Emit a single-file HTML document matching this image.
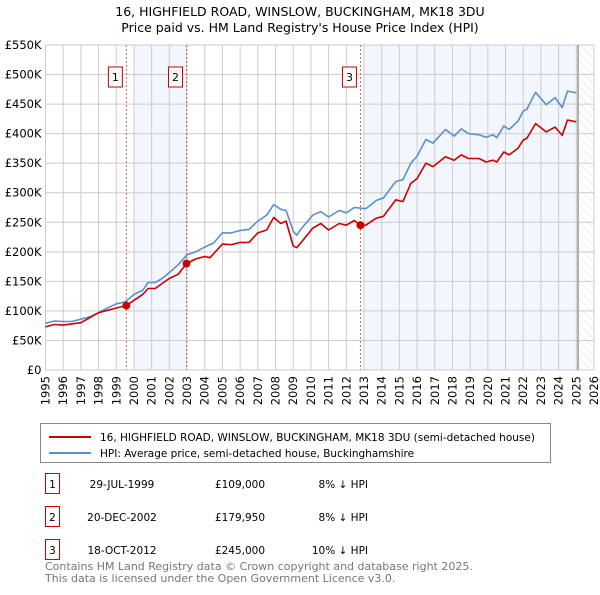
<!DOCTYPE html>
<html><head><meta charset="utf-8"><style>
body{margin:0;background:#fff;font-family:"Liberation Sans","DejaVu Sans",sans-serif;}
svg text{font-family:"DejaVu Sans","Liberation Sans",sans-serif;}
</style></head><body>
<svg id="c" width="600" height="590" xmlns="http://www.w3.org/2000/svg">
<defs><pattern id="hatch" width="6" height="6" patternUnits="userSpaceOnUse" patternTransform="rotate(-45)"><line x1="0" y1="0" x2="0" y2="6" stroke="#ddd" stroke-width="1"/></pattern></defs>
<text x="300" y="16" text-anchor="middle" font-size="12.5">16, HIGHFIELD ROAD, WINSLOW, BUCKINGHAM, MK18 3DU</text>
<text x="300" y="32" text-anchor="middle" font-size="12.5">Price paid vs. HM Land Registry's House Price Index (HPI)</text>
<g id="plot"></g>
<rect x="40.5" y="423.5" width="510" height="39" fill="#fff" stroke="#888"/>
<line x1="49" y1="437" x2="91" y2="437" stroke="#cc0000" stroke-width="2"/>
<text x="100" y="441" font-size="10.5">16, HIGHFIELD ROAD, WINSLOW, BUCKINGHAM, MK18 3DU (semi-detached house)</text>
<line x1="49" y1="453" x2="91" y2="453" stroke="#5b8fd0" stroke-width="2"/>
<text x="100" y="457" font-size="10.5">HPI: Average price, semi-detached house, Buckinghamshire</text>
<g id="tbl" font-size="10.5"></g>
<text x="45" y="570" font-size="11" fill="#777">Contains HM Land Registry data © Crown copyright and database right 2025.</text>
<text x="45" y="582" font-size="11" fill="#777">This data is licensed under the Open Government Licence v3.0.</text>
</svg>
<script>
const hpiYears=[1995,1995.5,1996,1996.5,1997,1997.5,1998,1998.5,1999,1999.5,2000,2000.5,2000.8,2001.2,2001.6,2002,2002.5,2003,2003.5,2004,2004.5,2005,2005.5,2006,2006.5,2007,2007.5,2007.9,2008.3,2008.6,2009,2009.2,2009.4,2010.1,2010.56,2011,2011.6,2012,2012.45,2013.1,2013.7,2014.1,2014.8,2015.2,2015.65,2016,2016.5,2016.9,2017.6,2018.1,2018.5,2018.9,2019.5,2019.9,2020.3,2020.5,2020.9,2021.2,2021.7,2022,2022.2,2022.7,2023.3,2023.8,2024.2,2024.5,2025];
const hpiValues=[79,83,82,82,86,90,97,105,112,115,128,135,148,148,155,165,178,195,200,208,215,232,232,236,238,252,262,280,272,270,235,228,237,262,268,259,270,266,275,273,287,291,319,322,350,362,390,384,407,396,408,400,398,394,398,393,413,407,421,438,441,470,449,461,444,472,469];
const redYears=[1995,1995.5,1996,1997,1998,1999,1999.57,2000,2000.5,2000.8,2001.2,2002,2002.5,2002.97,2003.5,2004,2004.3,2005,2005.5,2006,2006.5,2007,2007.5,2007.9,2008.3,2008.6,2009,2009.2,2009.4,2010.1,2010.56,2011,2011.6,2012,2012.45,2012.8,2013.1,2013.7,2014.1,2014.8,2015.2,2015.65,2016,2016.5,2016.9,2017.6,2018.1,2018.5,2018.9,2019.5,2019.9,2020.3,2020.5,2020.9,2021.2,2021.7,2022,2022.2,2022.7,2023.3,2023.8,2024.2,2024.5,2025];
const redValues=[73,77,76,80,97,105,109,118,128,138,138,155,162,180,188,192,190,213,212,216,216,232,237,258,248,252,210,207,214,240,248,237,248,245,253,245,245,257,260,288,285,316,324,350,344,361,355,364,358,358,352,355,352,369,364,375,389,392,417,403,411,397,423,420];
const saleYears=[1999.57,2002.97,2012.8];
const saleValues=[109,179.95,245];
const saleLabels=["1","2","3"];
const saleDates=["29-JUL-1999","20-DEC-2002","18-OCT-2012"];
const salePrices=["£109,000","£179,950","£245,000"];
const saleDiffs=["8% ↓ HPI","8% ↓ HPI","10% ↓ HPI"];
const yTicks=[0,50,100,150,200,250,300,350,400,450,500,550];
const yTickLabels=["£0","£50K","£100K","£150K","£200K","£250K","£300K","£350K","£400K","£450K","£500K","£550K"];
const xTicks=[1995,1996,1997,1998,1999,2000,2001,2002,2003,2004,2005,2006,2007,2008,2009,2010,2011,2012,2013,2014,2015,2016,2017,2018,2019,2020,2021,2022,2023,2024,2025,2026];

const X0=45.5,X1=594,Y0=370,Y1=45;
const xs=y=>X0+(y-1995)/(2026-1995)*(X1-X0);
const ys=v=>Y0-v/550*(Y0-Y1);
const NS="http://www.w3.org/2000/svg";
const plot=document.getElementById('plot');
function mk(tag,attrs,parent){const e=document.createElementNS(NS,tag);for(const k in attrs)e.setAttribute(k,attrs[k]);(parent||plot).appendChild(e);return e;}
let r;
r=mk('rect',{x:xs(2000),y:Y1,width:xs(2003)-xs(2000),height:Y0-Y1,fill:'#eef3fc',opacity:0.75});


r=mk('rect',{x:xs(2013),y:Y1,width:xs(2025.1)-xs(2013),height:Y0-Y1,fill:'#eef3fc',opacity:0.75});


r=mk('rect',{x:xs(2025.1),y:Y1,width:X1-xs(2025.1),height:Y0-Y1,fill:'url(#hatch)'});


xTicks.forEach(t=>{
  const l=mk('line',{x1:xs(t),x2:xs(t),y1:Y1,y2:Y0,stroke:'#ccc','stroke-width':1});
  
  
  const tx=mk('text',{x:0,y:0,'text-anchor':'end','font-size':11.5,transform:'translate('+(xs(t)+4)+','+(Y0+6)+') rotate(-90)'});
  tx.textContent=t;
  
  
});
yTicks.forEach((t,i)=>{
  const l=mk('line',{x1:X0,x2:X1,y1:ys(t),y2:ys(t),stroke:'#ccc','stroke-width':1});
  
  
  const tx=mk('text',{x:X0-4,y:ys(t)+4,'text-anchor':'end','font-size':11.5});
  tx.textContent=yTickLabels[i];
  
  
});
r=mk('line',{x1:xs(2025.1),x2:xs(2025.1),y1:Y1,y2:Y0,stroke:'#999','stroke-width':1.5});


saleYears.forEach((y,i)=>{
  const l=mk('line',{x1:xs(y),x2:xs(y),y1:Y1,y2:Y0,stroke:'#e06060','stroke-width':1,'stroke-dasharray':'2,2'});
  
  
  const b=mk('rect',{x:xs(y)-18,y:67,width:14,height:20,fill:'#fff',stroke:'#cc0000'});
  
  
  const t=mk('text',{x:xs(y)-11,y:81,'text-anchor':'middle','font-size':11});
  t.textContent=saleLabels[i];
  
  
});
function path(xv,yv,color,name){
  const d=xv.map((x,i)=>(i?'L':'M')+xs(x).toFixed(1)+','+ys(yv[i]).toFixed(1)).join('');
  const p=mk('path',{d:d,fill:'none',stroke:color,'stroke-width':1.6,'stroke-linejoin':'round'});
  
  
}
path(hpiYears,hpiValues,'#5b8fd0','hpi-line');
path(redYears,redValues,'#cc0000','property-price-line');
saleYears.forEach((y,i)=>{
  const c=mk('circle',{cx:xs(y),cy:ys(saleValues[i]),r:4,fill:'#cc0000'});
  
  
});
const tbl=document.getElementById('tbl');
const rowY=[486,519,552];
saleLabels.forEach((s,i)=>{
  const y=rowY[i];
  const b=mk('rect',{x:45.5,y:y-12.5,width:14,height:20,fill:'#fff',stroke:'#cc0000'},tbl);
  
  
  const cells=[[52.5,s,'middle'],[122,saleDates[i],'middle'],[240,salePrices[i],'middle'],[368,saleDiffs[i],'end']];
  cells.forEach(c=>{
    const t=mk('text',{x:c[0],y:y+2,'text-anchor':c[2]},tbl);
    t.textContent=c[1];
    
    
  });
});
</script>
</body></html>
